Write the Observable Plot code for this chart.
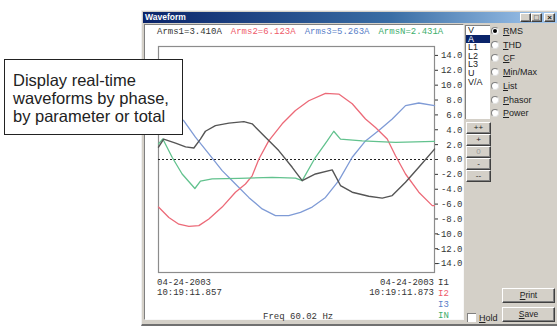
<!DOCTYPE html>
<html><head><meta charset="utf-8">
<script src="https://cdn.jsdelivr.net/npm/d3@7"></script>
<script src="https://cdn.jsdelivr.net/npm/@observablehq/plot@0.6"></script>
<style>
body{margin:0;width:557px;height:328px;overflow:hidden;background:#fff;position:relative;font-family:"Liberation Sans",Arial,sans-serif}
.a{position:absolute}
.mono{font-family:"Liberation Mono","DejaVu Sans Mono",monospace;font-size:9px;line-height:10px;white-space:nowrap}
.ui{font-family:"Liberation Sans",Arial,sans-serif;font-size:9px;line-height:10px;white-space:nowrap;color:#222}
.btn{background:#d4d0c8;border-top:1px solid #fff;border-left:1px solid #fff;border-right:1px solid #404040;border-bottom:1px solid #404040;box-shadow:inset -1px -1px 0 #808080;box-sizing:border-box;text-align:center;font-family:"Liberation Sans",Arial,sans-serif;font-size:8px;color:#222}
.radio{width:8px;height:8px;border-radius:50%;background:#fff;border:1px solid #808080;border-right-color:#e0e0e0;border-bottom-color:#e0e0e0;box-sizing:border-box}
u{text-decoration:underline}
</style></head><body>
<div id="win" class="a" style="left:141px;top:10px;width:416px;height:316px;background:#d4d0c8;border-left:1px solid #f0f0f0;border-top:1px solid #f0f0f0;border-bottom:2px solid #707070;box-sizing:border-box"></div>
<div class="a" style="left:143px;top:12px;width:414px;height:11px;background:linear-gradient(to right,#0a246a,#3a6ea5 60%,#a6caf0)"></div>
<div id="title" class="a ui" style="left:145px;top:12px;color:#fff;font-weight:bold;font-size:8.5px;line-height:11px"></div>
<div class="a btn" style="left:520px;top:13px;width:11px;height:9px;line-height:8px">_</div>
<div class="a btn" style="left:531px;top:13px;width:11px;height:9px;line-height:8px">□</div>
<div class="a btn" style="left:544px;top:13px;width:11px;height:9px;line-height:8px;font-weight:bold">×</div>
<div class="a" style="left:144px;top:24px;width:320px;height:296px;background:#fff;border-top:1px solid #808080;border-left:1px solid #808080;border-right:1px solid #f8f8f8;border-bottom:1px solid #f8f8f8;box-sizing:border-box"></div>
<div id="chart" class="a" style="left:145px;top:25px"></div>
<div id="arms" class="a mono" style="left:157px;top:27px"></div>
<div id="botL" class="a mono" style="left:157px;top:278px;color:#333"></div>
<div id="botR" class="a mono" style="right:123px;top:278px;color:#333;text-align:right"></div>
<div id="phases" class="a mono" style="left:438px;top:278px"></div>
<div id="freq" class="a mono" style="left:263px;top:312px;color:#333"></div>
<div id="list" class="a" style="left:465px;top:25px;width:25px;height:94px;background:#fff;border-top:1px solid #808080;border-left:1px solid #808080;box-sizing:border-box"></div>
<div id="radios" class="a"></div>
<div id="steps" class="a"></div>
<div class="a" style="left:467px;top:313px;width:9px;height:9px;background:#fff;border-top:1px solid #808080;border-left:1px solid #808080;box-sizing:border-box"></div>
<div class="a ui" style="left:479px;top:313px"><u>H</u>old</div>
<div class="a btn" style="left:502px;top:288px;width:53px;height:15px;line-height:13px;font-size:8.5px"><u>P</u>rint</div>
<div class="a btn" style="left:502px;top:307px;width:53px;height:15px;line-height:13px;font-size:8.5px"><u>S</u>ave</div>
<div id="note" class="a" style="left:4px;top:59px;width:179px;height:76px;background:#fff;border:1.5px solid #222;box-sizing:border-box;padding:11px 0 0 8px;font-family:'Liberation Sans',Arial,sans-serif;font-size:16.5px;line-height:18px;color:#222"></div>
<script>
// ---- data (time in ms across one 60 Hz cycle, current in A) ----
const i1T = [0,0.3,0.99,1.57,2.05,2.43,2.72,3.30,4.08,4.95,5.43,6.2,6.97,7.75,8.33,9.1,10.07,10.55,11.23,12.19,12.97,13.55,14.32,15.09,16];
const i1V = [1.65,2.75,2.2,1.7,1.55,2.75,3.8,4.55,4.9,5.1,4.8,3.0,1.2,-1.05,-2.85,-1.95,-1.4,-3.5,-4.4,-4.95,-5.2,-4.85,-3.05,-1.05,1.4];
const i2T = [0,0.6,1.18,1.76,2.34,2.92,3.69,4.46,5.04,5.43,5.82,6.39,7.17,7.94,8.71,9.68,10.45,11.23,12.0,12.58,13.26,13.74,14.32,15.09,15.87,16];
const i2V = [-6.4,-7.8,-8.7,-9.0,-8.9,-8.0,-6.4,-4.4,-3.3,-2.2,0.07,2.5,4.8,6.6,7.9,8.9,8.8,7.5,5.45,4.3,2.75,0.5,-1.95,-4.4,-6.2,-6.2];
const i3T = [0,0.7,1.47,2.14,2.92,3.69,4.46,5.23,6.01,6.78,7.55,8.23,8.91,9.68,10.45,11.23,12.0,12.77,13.55,14.32,15.09,16];
const i3V = [7.2,6.5,5.2,3.0,0.75,-1.5,-3.3,-5.1,-6.65,-7.55,-7.55,-7.1,-6.4,-5.1,-2.85,0.3,2.5,3.9,5.45,7.25,7.6,7.25];
const inT = [0,0.25,0.79,1.37,2.11,2.43,3.11,4.66,6.59,7.94,8.33,9.1,9.78,10.16,10.55,11.81,13.74,16];
const inV = [2.1,2.75,0.3,-1.95,-3.9,-2.9,-2.6,-2.55,-2.4,-2.5,-2.85,0.3,2.5,3.8,2.75,2.5,2.3,2.45];
const seriesNames = ["I1","I2","I3","IN"];
const seriesColors = ["#555555","#ec6a78","#7f9bd6","#62c28e"];
const textColors = ["#333333","#ee5a6a","#5a80c8","#3fae6c"];
const armsLabels = ["Arms1=3.410A","Arms2=6.123A","Arms3=5.263A","ArmsN=2.431A"];
const yTicks = [14,12,10,8,6,4,2,0,-2,-4,-6,-8,-10,-12,-14];
const listItems = ["V","A","L1","L2","L3","U","V/A"];
const radioItems = [["R","MS"],["T","HD"],["C","F"],["M","in/Max"],["L","ist"],["P","hasor"],["P","ower"]];
const stepButtons = ["++","+","0","-","--"];
const noteLines = ["Display real-time","waveforms by phase,","by parameter or total"];
const startStamp = ["04-24-2003","10:19:11.857"];
const endStamp = ["04-24-2003","10:19:11.873"];
const freqLabel = "Freq 60.02 Hz";
const windowTitle = "Waveform";

const rows = (t, v, s) => t.map((x, i) => ({t: x, v: v[i], s}));
const seriesData = [rows(i1T,i1V,"I1"), rows(i2T,i2V,"I2"), rows(i3T,i3V,"I3"), rows(inT,inV,"IN")];
const mono = "Liberation Mono, DejaVu Sans Mono, monospace";

const plot = Plot.plot({
  width: 318, height: 295,
  marginLeft: 13, marginRight: 29, marginTop: 21, marginBottom: 48,
  style: {background: "transparent", overflow: "visible"},
  x: {domain: [0, 16], axis: null},
  y: {domain: [-15.2, 15.2], axis: null},
  marks: [
    Plot.frame({stroke: "#8c8c8c", strokeWidth: 1.2}),
    Plot.ruleY([0], {stroke: "#222", strokeDasharray: "2,2", strokeWidth: 1}),
    Plot.axisY(yTicks, {anchor: "right", label: null, tickSize: 3, tickPadding: 25, textAnchor: "end",
      tickFormat: d => d.toFixed(1), fontFamily: mono, fontSize: 9, color: "#333"}),
    Plot.line(seriesData[2], {x: "t", y: "v", stroke: seriesColors[2], strokeWidth: 1.3}),
    Plot.line(seriesData[1], {x: "t", y: "v", stroke: seriesColors[1], strokeWidth: 1.3}),
    Plot.line(seriesData[3], {x: "t", y: "v", stroke: seriesColors[3], strokeWidth: 1.3}),
    Plot.line(seriesData[0], {x: "t", y: "v", stroke: seriesColors[0], strokeWidth: 1.4})
  ]
});
document.getElementById("chart").append(plot);

document.getElementById("title").textContent = windowTitle;
document.getElementById("arms").innerHTML = armsLabels.map((l, i) =>
  `<span style="color:${textColors[i]};margin-right:${i < 3 ? 9 : 0}px">${l}</span>`).join("");
document.getElementById("botL").innerHTML = startStamp.join("<br>");
document.getElementById("botR").innerHTML = endStamp.join("<br>");
document.getElementById("phases").innerHTML = seriesNames.map((n, i) =>
  `<div style="color:${textColors[i]};height:11px">${n}</div>`).join("");
document.getElementById("freq").textContent = freqLabel;
document.getElementById("list").innerHTML = listItems.map((n, i) =>
  `<div class="ui" style="padding-left:2px;height:8.6px;line-height:8.6px;${i === 1 ? "background:#0a246a;color:#fff;" : ""}">${n}</div>`).join("");
document.getElementById("radios").innerHTML = radioItems.map((r, i) =>
  `<div class="a radio" style="left:491px;top:${27 + i * 13.7}px">${i === 0 ? '<div style="width:4px;height:4px;border-radius:50%;background:#000;margin:1px"></div>' : ""}</div>
   <div class="a ui" style="left:503px;top:${26 + i * 13.7}px"><u>${r[0]}</u>${r[1]}</div>`).join("");
document.getElementById("steps").innerHTML = stepButtons.map((b, i) =>
  `<div class="a btn" style="left:466px;top:${122 + i * 12}px;width:25px;height:12px;line-height:10px;${b === "0" ? "color:#999;" : ""}">${b}</div>`).join("");
document.getElementById("note").innerHTML = noteLines.join("<br>");
</script>
</body></html>
